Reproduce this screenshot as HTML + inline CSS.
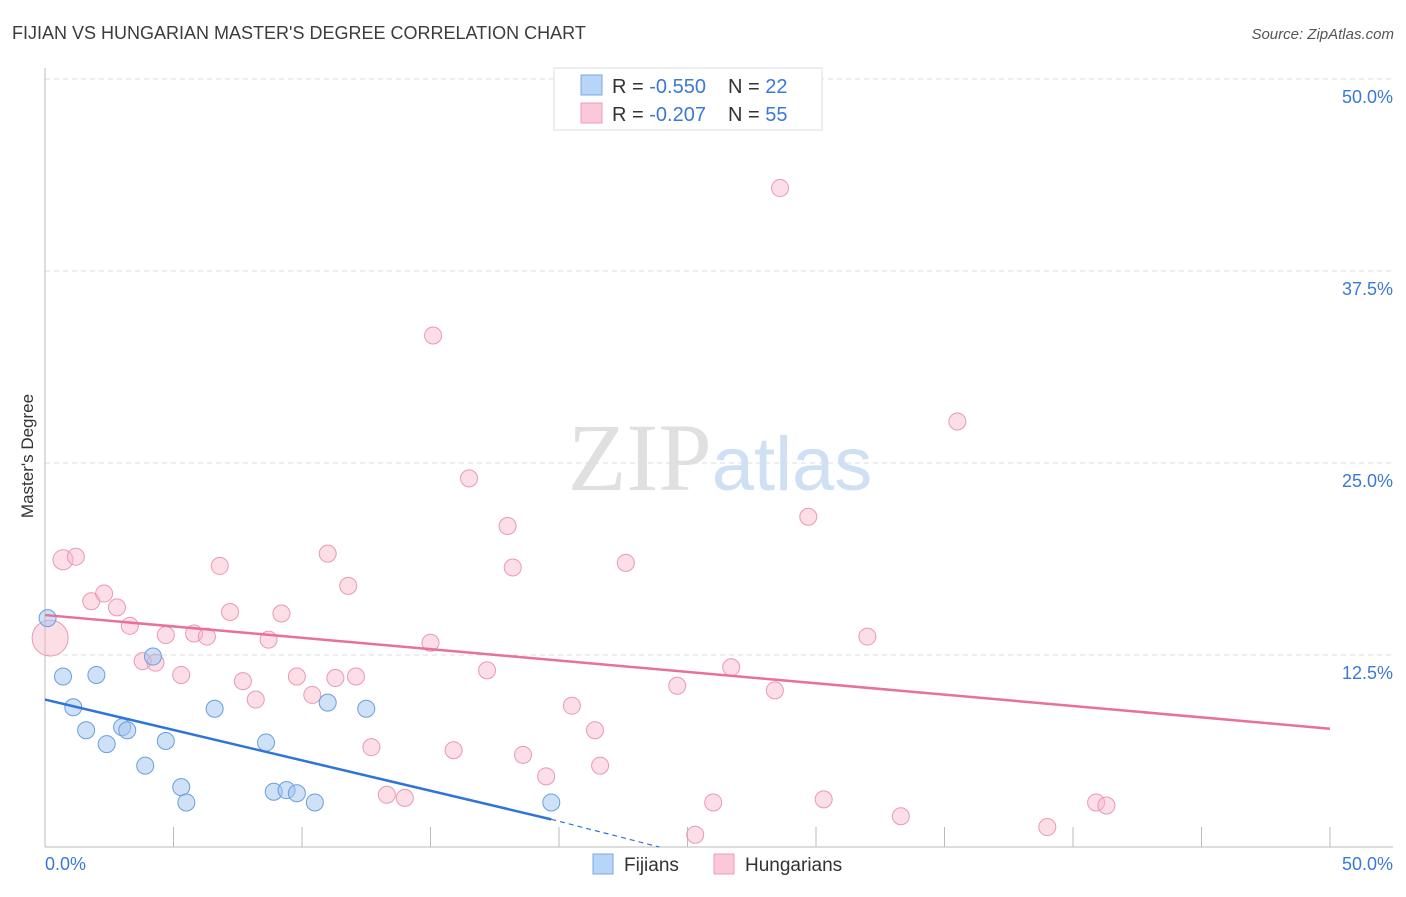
<!DOCTYPE html>
<html><head><meta charset="utf-8"><style>
body{margin:0;background:#fff;font-family:"Liberation Sans",sans-serif;}
</style></head><body>
<svg id="chart" width="1406" height="892" xmlns="http://www.w3.org/2000/svg" font-family="Liberation Sans, sans-serif">
<text x="12" y="39" font-size="18" fill="#3c3c3c">FIJIAN VS HUNGARIAN MASTER'S DEGREE CORRELATION CHART</text>
<text x="1394" y="39" font-size="15" fill="#555" text-anchor="end" font-style="italic">Source: ZipAtlas.com</text>
<text transform="translate(33,456) rotate(-90)" font-size="17" fill="#333" text-anchor="middle">Master's Degree</text>
<text x="720" y="490" font-size="96" text-anchor="middle"><tspan fill="#e0e0e0" font-family="Liberation Serif, serif">ZIP</tspan><tspan fill="#cfe0f5" font-size="76">atlas</tspan></text>
<g id="grid"></g><g id="axes"></g><g id="pts"></g><g id="trend"></g>
<g>
<rect x="554" y="68" width="268" height="62" fill="#fff" stroke="#ddd"/>
<rect x="581" y="75" width="21" height="20" fill="#b8d4f6" stroke="#7aa8e6"/>
<rect x="581" y="103" width="21" height="20" fill="#fac8d8" stroke="#ee9cb8"/>
<text x="612" y="93" font-size="20" fill="#333">R = <tspan fill="#3b78d8">-0.550</tspan><tspan dx="22" fill="#333">N = </tspan><tspan fill="#3b78d8">22</tspan></text>
<text x="612" y="121" font-size="20" fill="#333">R = <tspan fill="#3b78d8">-0.207</tspan><tspan dx="22" fill="#333">N = </tspan><tspan fill="#3b78d8">55</tspan></text>
</g>
<g>
<rect x="593" y="854" width="20" height="20" fill="#b8d4f6" stroke="#7aa8e6"/>
<text x="624" y="871" font-size="19" fill="#333">Fijians</text>
<rect x="714" y="854" width="20" height="20" fill="#fac8d8" stroke="#ee9cb8"/>
<text x="745" y="871" font-size="19" fill="#333">Hungarians</text>
</g>
</svg>
<script>
const yTicks=[12.5,25,37.5,50];
const yTickLabels=["12.5%","25.0%","37.5%","50.0%"];
const xTicks=[0,5,10,15,20,25,30,35,40,45,50];
const fijX=[0.1,0.7,2.0,1.1,1.6,2.4,3.0,3.2,3.9,4.2,4.7,5.3,5.5,6.6,8.6,8.9,9.4,9.8,10.5,11.0,12.5,19.7];
const fijY=[14.9,11.1,11.2,9.1,7.6,6.7,7.8,7.6,5.3,12.4,6.9,3.9,2.9,9.0,6.8,3.6,3.7,3.5,2.9,9.4,9.0,2.9];
const hunX=[0.7,1.2,0.2,1.8,2.3,2.8,3.3,3.8,4.3,5.3,4.7,5.8,6.3,6.8,7.2,7.7,8.2,8.7,9.2,9.8,10.4,11.0,11.3,11.8,12.1,12.7,13.3,14.0,15.0,15.1,15.9,16.5,17.2,18.0,18.2,18.6,19.5,20.5,21.4,21.6,22.6,24.6,25.3,26.0,26.7,28.4,28.6,29.7,30.3,32.0,33.3,35.5,39.0,40.9,41.3];
const hunY=[18.7,18.9,13.6,16.0,16.5,15.6,14.4,12.1,12.0,11.2,13.8,13.9,13.7,18.3,15.3,10.8,9.6,13.5,15.2,11.1,9.9,19.1,11.0,17.0,11.1,6.5,3.4,3.2,13.3,33.3,6.3,24.0,11.5,20.9,18.2,6.0,4.6,9.2,7.6,5.3,18.5,10.5,0.8,2.9,11.7,10.2,42.9,21.5,3.1,13.7,2.0,27.7,1.3,2.9,2.7];
const hunR=[10,8.5,18];
const fijLine=[0,9.6,19.7,1.8,23.9,0];
const hunLine=[0,15.1,50,7.7];
const NS="http://www.w3.org/2000/svg";
const sx=v=>45+v*25.7, sy=v=>847-v*15.36;
function mk(tag,attrs,parent){const e=document.createElementNS(NS,tag);for(const k in attrs)e.setAttribute(k,attrs[k]);document.getElementById(parent).appendChild(e);return e;}
yTicks.forEach((t,i)=>{
 const l=mk('line',{x1:45,x2:1393,y1:sy(t),y2:sy(t),stroke:'#ddd','stroke-dasharray':'5,4'},'grid');
 
 
 const tx=mk('text',{x:1393,y:sy(t)+24,'font-size':18,fill:'#3b78d8','text-anchor':'end'},'grid');
 tx.textContent=yTickLabels[i];
 
 
});
mk('line',{x1:45,x2:45,y1:68,y2:847,stroke:'#bbb'},'axes');
mk('line',{x1:45,x2:1393,y1:847,y2:847,stroke:'#bbb'},'axes');
xTicks.forEach(t=>{if(t>0){const l=mk('line',{x1:sx(t),x2:sx(t),y1:827,y2:847,stroke:'#bbb'},'axes');
 
 }});
const a=mk('text',{x:45,y:870,'font-size':18,fill:'#3b78d8'},'axes');a.textContent='0.0%';


const b=mk('text',{x:1393,y:870,'font-size':18,fill:'#3b78d8','text-anchor':'end'},'axes');b.textContent='50.0%';


hunX.forEach((x,i)=>{const c=mk('circle',{cx:sx(x),cy:sy(hunY[i]),r:hunR[i]||8.5,fill:'rgba(248,182,202,0.45)',stroke:'#eb98b4','stroke-width':1},'pts');
 
 });
fijX.forEach((x,i)=>{const c=mk('circle',{cx:sx(x),cy:sy(fijY[i]),r:8.5,fill:'rgba(160,196,240,0.5)',stroke:'#6a9ee0','stroke-width':1},'pts');
 
 });
const hl=mk('line',{x1:sx(hunLine[0]),y1:sy(hunLine[1]),x2:sx(hunLine[2]),y2:sy(hunLine[3]),stroke:'#e8709a','stroke-width':2.5},'trend');


const fl=mk('line',{x1:sx(fijLine[0]),y1:sy(fijLine[1]),x2:sx(fijLine[2]),y2:sy(fijLine[3]),stroke:'#2f74d8','stroke-width':2.5},'trend');


const fd=mk('line',{x1:sx(fijLine[2]),y1:sy(fijLine[3]),x2:sx(fijLine[4]),y2:sy(fijLine[5]),stroke:'#2f74d8','stroke-width':1.2,'stroke-dasharray':'5,4'},'trend');


</script>
</body></html>
